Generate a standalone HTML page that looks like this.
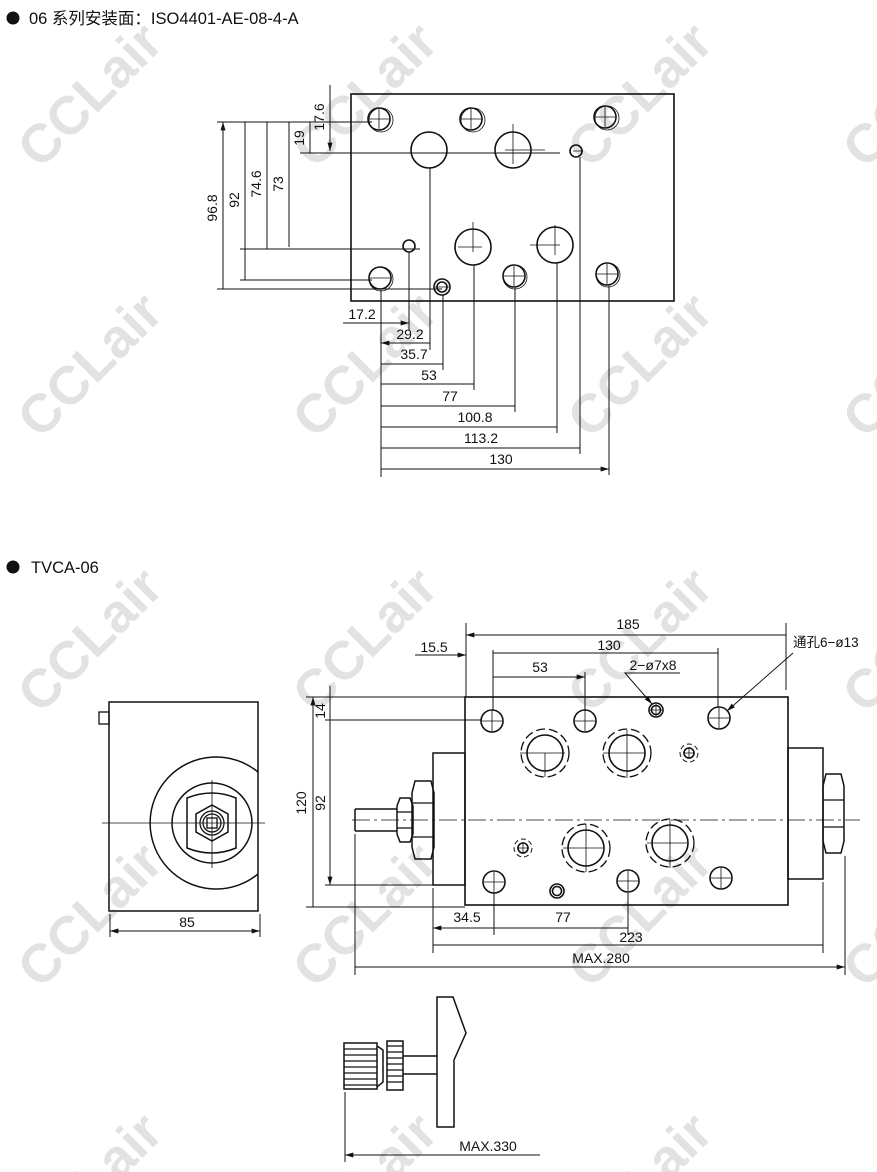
<!DOCTYPE html>
<html><head><meta charset="utf-8"><style>
html,body{margin:0;padding:0;background:#fff;width:877px;height:1172px;overflow:hidden;}
svg{display:block;overflow:hidden;}
text{font-family:"Liberation Sans","Noto Sans CJK SC",sans-serif;fill:#111;}
.wm{font-family:"Liberation Sans",sans-serif;font-weight:bold;font-size:54px;fill:#e2e2e2;}
</style></head><body>
<svg width="877" height="1172" viewBox="0 0 877 1172" xmlns="http://www.w3.org/2000/svg">
<defs>
<marker id="a" viewBox="0 0 10 6" refX="10" refY="3" markerWidth="9" markerHeight="5" orient="auto-start-reverse" markerUnits="userSpaceOnUse"><path d="M0,0L10,3L0,6z" fill="#111"/></marker>
<clipPath id="pc"><rect x="0" y="0" width="877" height="1172"/></clipPath>
</defs>
<g clip-path="url(#pc)">
<text class="wm" transform="translate(90,95) rotate(-45)" text-anchor="middle" dy="18">CCLair</text>
<text class="wm" transform="translate(365,95) rotate(-45)" text-anchor="middle" dy="18">CCLair</text>
<text class="wm" transform="translate(640,95) rotate(-45)" text-anchor="middle" dy="18">CCLair</text>
<text class="wm" transform="translate(915,95) rotate(-45)" text-anchor="middle" dy="18">CCLair</text>
<text class="wm" transform="translate(90,365) rotate(-45)" text-anchor="middle" dy="18">CCLair</text>
<text class="wm" transform="translate(365,365) rotate(-45)" text-anchor="middle" dy="18">CCLair</text>
<text class="wm" transform="translate(640,365) rotate(-45)" text-anchor="middle" dy="18">CCLair</text>
<text class="wm" transform="translate(915,365) rotate(-45)" text-anchor="middle" dy="18">CCLair</text>
<text class="wm" transform="translate(90,640) rotate(-45)" text-anchor="middle" dy="18">CCLair</text>
<text class="wm" transform="translate(365,640) rotate(-45)" text-anchor="middle" dy="18">CCLair</text>
<text class="wm" transform="translate(640,640) rotate(-45)" text-anchor="middle" dy="18">CCLair</text>
<text class="wm" transform="translate(915,640) rotate(-45)" text-anchor="middle" dy="18">CCLair</text>
<text class="wm" transform="translate(90,915) rotate(-45)" text-anchor="middle" dy="18">CCLair</text>
<text class="wm" transform="translate(365,915) rotate(-45)" text-anchor="middle" dy="18">CCLair</text>
<text class="wm" transform="translate(640,915) rotate(-45)" text-anchor="middle" dy="18">CCLair</text>
<text class="wm" transform="translate(915,915) rotate(-45)" text-anchor="middle" dy="18">CCLair</text>
<text class="wm" transform="translate(90,1185) rotate(-45)" text-anchor="middle" dy="18">CCLair</text>
<text class="wm" transform="translate(365,1185) rotate(-45)" text-anchor="middle" dy="18">CCLair</text>
<text class="wm" transform="translate(640,1185) rotate(-45)" text-anchor="middle" dy="18">CCLair</text>
</g>

<circle cx="13" cy="18" r="6.5" fill="#111"/>
<text x="29" y="24" font-size="16.5">06 系列安装面：ISO4401-AE-08-4-A</text>
<circle cx="13" cy="567" r="6.5" fill="#111"/>
<text x="31" y="573" font-size="16.5">TVCA-06</text>

<g fill="none" stroke="#111" stroke-width="1.3">
<rect x="351" y="94" width="323" height="207" stroke-width="1.6"/>
<g stroke-width="1.6">
<circle cx="379" cy="119" r="11"/><circle cx="381" cy="120" r="12" stroke-width="0.8"/>
<circle cx="471" cy="119" r="11"/><circle cx="473" cy="120" r="12" stroke-width="0.8"/>
<circle cx="605" cy="117" r="11"/><circle cx="607" cy="118" r="12" stroke-width="0.8"/>
<circle cx="429" cy="150" r="18"/>
<circle cx="513" cy="150" r="18"/>
<circle cx="576" cy="151" r="6"/>
<circle cx="409" cy="246" r="6"/>
<circle cx="473" cy="247" r="18"/>
<circle cx="555" cy="245" r="18"/>
<circle cx="380" cy="278" r="11"/><circle cx="381" cy="279" r="12" stroke-width="0.8"/>
<circle cx="442" cy="287" r="8"/><circle cx="442" cy="287" r="5"/>
<circle cx="514" cy="276" r="11"/><circle cx="515" cy="277" r="12" stroke-width="0.8"/>
<circle cx="607" cy="274" r="11"/><circle cx="608" cy="275" r="12" stroke-width="0.8"/>
</g>
<g stroke-width="0.8">
<path d="M369 119h20M379 109v20M461 119h20M471 109v20M595 117h20M605 107v20"/>
<path d="M505 150h40M513 124v40M573 151h10M458 247h24M473 222v30M530 245h30M555 225v30"/>
<path d="M370 278h20M504 276h20M514 266v20M597 274h20M607 264v20M435 287h14"/>
</g>
<g stroke-width="1">
<path d="M217 122H372M300 153H560M240 249H420M217 289H442M240 280H372"/>
<path d="M223 122V289M245 122V280M267 122V249M289 122V247M310 122V153M330 122V151" marker-start="url(#a)" marker-end="url(#a)"/>
<path d="M330 85V122"/>
</g>
<g stroke-width="1">
<path d="M381 290V477M409 252V330M430 168V350M443 295V370M474 265V390M515 288V412M557 263V433M580 157V454M609 286V475"/>
<path d="M343 323H409" marker-end="url(#a)"/>
<path d="M381 343H430M381 364H443M381 384H474M381 406H515M381 427H557M381 448H580M381 469H609" marker-start="url(#a)" marker-end="url(#a)"/>
</g>

<rect x="109" y="702" width="149" height="209" stroke-width="1.5"/>
<rect x="99" y="712" width="10" height="12"/>
<path d="M258 772A66 66 0 1 0 258 874" stroke-width="1.5"/>
<circle cx="212" cy="823" r="40" stroke-width="1.5"/>
<path d="M187 798Q212 788 236 798V848Q212 858 187 848Z" stroke-width="1.5"/>
<path d="M212 805L228 814V832L212 841L196 832V814Z" stroke-width="1.5"/>
<circle cx="212" cy="823" r="12"/><circle cx="212" cy="823" r="9"/>
<rect x="207" y="818" width="10" height="10"/>
<path d="M102 823H265M212 780V868" stroke-width="0.8"/>
<path d="M110 914V937M260 914V937" stroke-width="1"/>
<path d="M110 931H260" stroke-width="1" marker-start="url(#a)" marker-end="url(#a)"/>

<rect x="465" y="697" width="323" height="208" stroke-width="1.6"/>
<rect x="433" y="753" width="32" height="132" stroke-width="1.5"/>
<rect x="788" y="748" width="35" height="131" stroke-width="1.5"/>
<path d="M826 774H841L844 786V841L841 853H826L823 841V786Z" stroke-width="1.5"/>
<path d="M823 800H844M823 827H844" stroke-width="1.2"/>
<path d="M415 781H431L434 793V847L431 859H415L412 847V793Z" stroke-width="1.5"/>
<path d="M412 803H434M412 837H434"/>
<path d="M400 798H410L413 806V834L410 842H400L397 834V806Z" stroke-width="1.5"/>
<path d="M397 812H413M397 828H413"/>
<path d="M355 809H397M355 831H397M355 809V831" stroke-width="1.5"/>
<path d="M352 820H860" stroke-width="0.8" stroke-dasharray="18 4 3 4"/>
<g stroke-width="1.6">
<circle cx="492" cy="721" r="11"/><circle cx="585" cy="721" r="11"/><circle cx="719" cy="718" r="11"/>
<circle cx="656" cy="710" r="7"/><circle cx="656" cy="710" r="4.5"/>
<circle cx="545" cy="753" r="18"/><circle cx="627" cy="753" r="18"/>
<circle cx="586" cy="848" r="18"/><circle cx="670" cy="843" r="18"/>
<circle cx="689" cy="753" r="5"/><circle cx="523" cy="848" r="5"/>
<circle cx="494" cy="882" r="11"/><circle cx="628" cy="881" r="11"/><circle cx="721" cy="878" r="11"/>
<circle cx="557" cy="891" r="7"/><circle cx="557" cy="891" r="4.5"/>
</g>
<g stroke-width="1.3" stroke-dasharray="9 4">
<circle cx="545" cy="753" r="24"/><circle cx="627" cy="753" r="24"/>
<circle cx="586" cy="848" r="24"/><circle cx="670" cy="843" r="24"/>
</g>
<g stroke-width="1" stroke-dasharray="5 3">
<circle cx="689" cy="753" r="9"/><circle cx="523" cy="848" r="9"/>
</g>
<g stroke-width="0.8">
<path d="M482 721h20M492 711v20M575 721h20M585 711v20M709 718h20M719 708v20M650 710h12M656 704v12"/>
<path d="M520 753h45M545 753v24M603 753h42M627 730v48M683 753h12M689 747v12M517 848h12M523 842v12"/>
<path d="M563 848h40M586 824v48M647 843h40M670 820v48M484 882h20M494 872v20M618 881h20M628 871v20M711 878h20M721 868v20"/>
</g>
<g stroke-width="1">
<path d="M466 623V697M786 623V690M493 650V711M585 672V711M718 648V708"/>
<path d="M466 635H786M493 653H718M493 677H585" marker-start="url(#a)" marker-end="url(#a)"/>
<path d="M415 655H466" marker-end="url(#a)"/>
<path d="M680 673H625L652 704" marker-end="url(#a)"/>
<path d="M793 653L727 711" marker-end="url(#a)"/>
</g>
<g stroke-width="1">
<path d="M306 697H465M325 720H482M306 907H465M325 885H433"/>
<path d="M313 697V907M330 720V885" marker-start="url(#a)" marker-end="url(#a)"/>
<path d="M330 686V720"/>
</g>
<g stroke-width="1">
<path d="M433 888V953M494 893V935M628 893V935M823 882V953M355 834V975M845 856V975"/>
<path d="M433 928H494M494 928H628M433 945H823M355 967H845" marker-start="url(#a)" marker-end="url(#a)"/>
</g>

<rect x="344" y="1043" width="33" height="46" stroke-width="1.5"/>
<path d="M344 1049H377M344 1055H377M344 1061H377M344 1067H377M344 1073H377M344 1079H377M344 1085H377" stroke-width="1.2"/>
<path d="M377 1046L383 1050V1082L377 1087" stroke-width="1.5"/>
<rect x="387" y="1041" width="16" height="49" stroke-width="1.5"/>
<path d="M387 1046H403M387 1052H403M387 1058H403M387 1064H403M387 1070H403M387 1076H403M387 1082H403" stroke-width="1.2"/>
<path d="M403 1056H437M403 1074H437" stroke-width="1.5"/>
<path d="M437 997H453L466 1033L454 1060V1127H437Z" stroke-width="1.5"/>
<path d="M345 1092V1162" stroke-width="1"/>
<path d="M540 1155H345" stroke-width="1" marker-end="url(#a)"/>
</g>

<g font-size="14">
<text transform="translate(324,117) rotate(-90)" text-anchor="middle">17.6</text>
<text transform="translate(304,138) rotate(-90)" text-anchor="middle">19</text>
<text transform="translate(283,184) rotate(-90)" text-anchor="middle">73</text>
<text transform="translate(261,184) rotate(-90)" text-anchor="middle">74.6</text>
<text transform="translate(239,200) rotate(-90)" text-anchor="middle">92</text>
<text transform="translate(217,208) rotate(-90)" text-anchor="middle">96.8</text>
<text x="362" y="319" text-anchor="middle">17.2</text>
<text x="410" y="339" text-anchor="middle">29.2</text>
<text x="414" y="359" text-anchor="middle">35.7</text>
<text x="429" y="380" text-anchor="middle">53</text>
<text x="450" y="401" text-anchor="middle">77</text>
<text x="475" y="422" text-anchor="middle">100.8</text>
<text x="481" y="443" text-anchor="middle">113.2</text>
<text x="501" y="464" text-anchor="middle">130</text>
<text x="187" y="927" text-anchor="middle">85</text>
<text x="628" y="629" text-anchor="middle">185</text>
<text x="609" y="650" text-anchor="middle">130</text>
<text x="434" y="652" text-anchor="middle">15.5</text>
<text x="540" y="672" text-anchor="middle">53</text>
<text x="653" y="670" text-anchor="middle">2−ø7x8</text>
<text x="793" y="647" font-size="13.5">通孔6−ø13</text>
<text transform="translate(325,711) rotate(-90)" text-anchor="middle">14</text>
<text transform="translate(325,803) rotate(-90)" text-anchor="middle">92</text>
<text transform="translate(306,803) rotate(-90)" text-anchor="middle">120</text>
<text x="467" y="922" text-anchor="middle">34.5</text>
<text x="563" y="922" text-anchor="middle">77</text>
<text x="631" y="942" text-anchor="middle">223</text>
<text x="601" y="963" text-anchor="middle">MAX.280</text>
<text x="488" y="1151" text-anchor="middle">MAX.330</text>
</g>
</svg>
</body></html>
